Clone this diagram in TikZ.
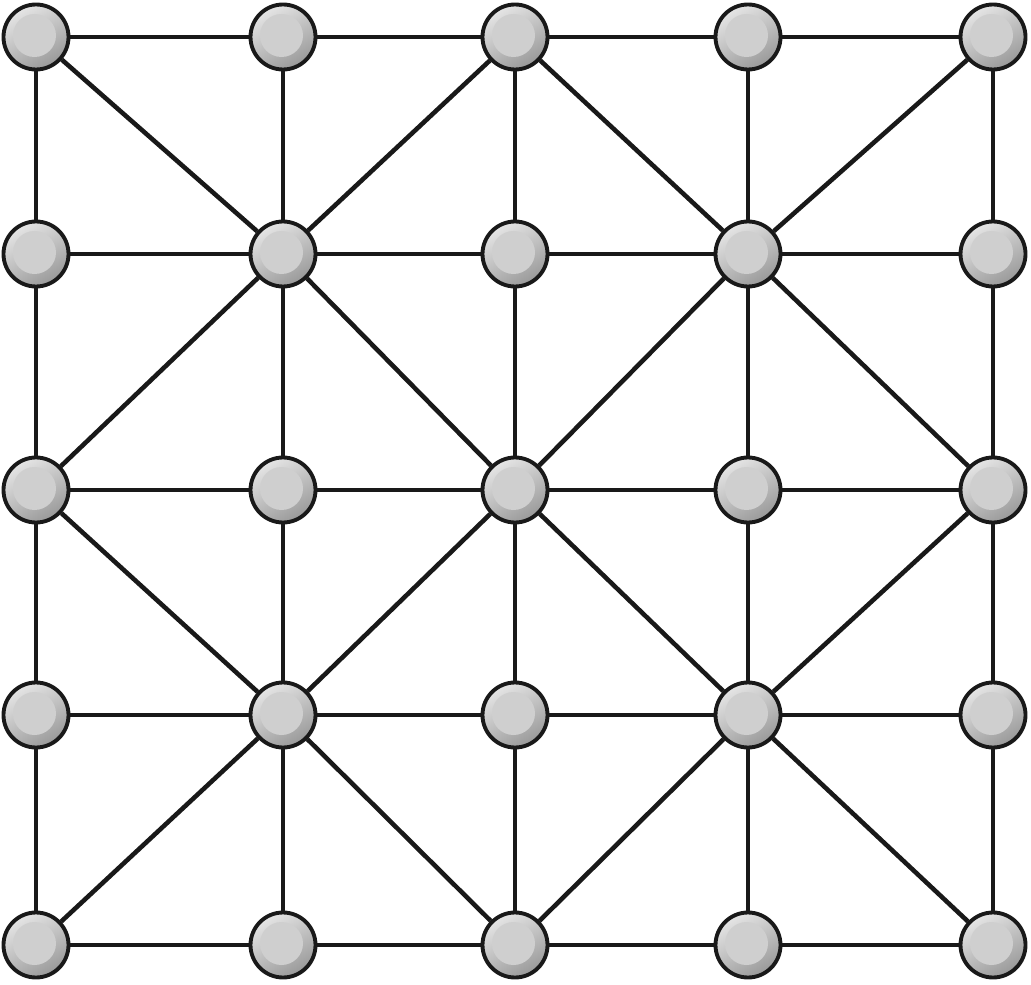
\documentclass[tikz,border=0pt]{standalone}
\usepackage{amsmath}
\usepackage[svgnames]{xcolor}

\tikzset{
    vert/.style={circle, draw=black!90, line width=1.1pt, minimum size=0.65cm, inner sep=0pt,
        top color=gray!20, bottom color=gray!80, shading angle=30,
        path picture={\fill[gray!38] ([shift={(-0.015, 0.015)}]path picture bounding box.center) circle (0.215cm);}},
    edge/.style={line width=1.3pt, black!90}
}

\begin{document}
\begin{tikzpicture}
        \useasboundingbox (0, 0) rectangle (10.31, 9.84);
        % vertices, column by row (row 0 at the top)
        \foreach \c/\x in {0/0.36, 1/2.83, 2/5.15, 3/7.48, 4/9.93}
            \foreach \r/\y in {0/9.47, 1/7.30, 2/4.94, 3/2.69, 4/0.39}
                \node[vert] (v\c\r) at (\x, \y) {};

        % grid lines
        \foreach \a/\b in {0/1, 1/2, 2/3, 3/4}
            \foreach \k in {0, 1, 2, 3, 4} {
                \draw[edge] (v\a\k) -- (v\b\k);
                \draw[edge] (v\k\a) -- (v\k\b);
            }

        % diagonals
        \draw[edge] (v00) -- (v11) -- (v20) -- (v31) -- (v40);
        \draw[edge] (v02) -- (v11) -- (v22) -- (v31) -- (v42);
        \draw[edge] (v02) -- (v13) -- (v22) -- (v33) -- (v42);
        \draw[edge] (v04) -- (v13) -- (v24) -- (v33) -- (v44);
    \end{tikzpicture}
\end{document}
